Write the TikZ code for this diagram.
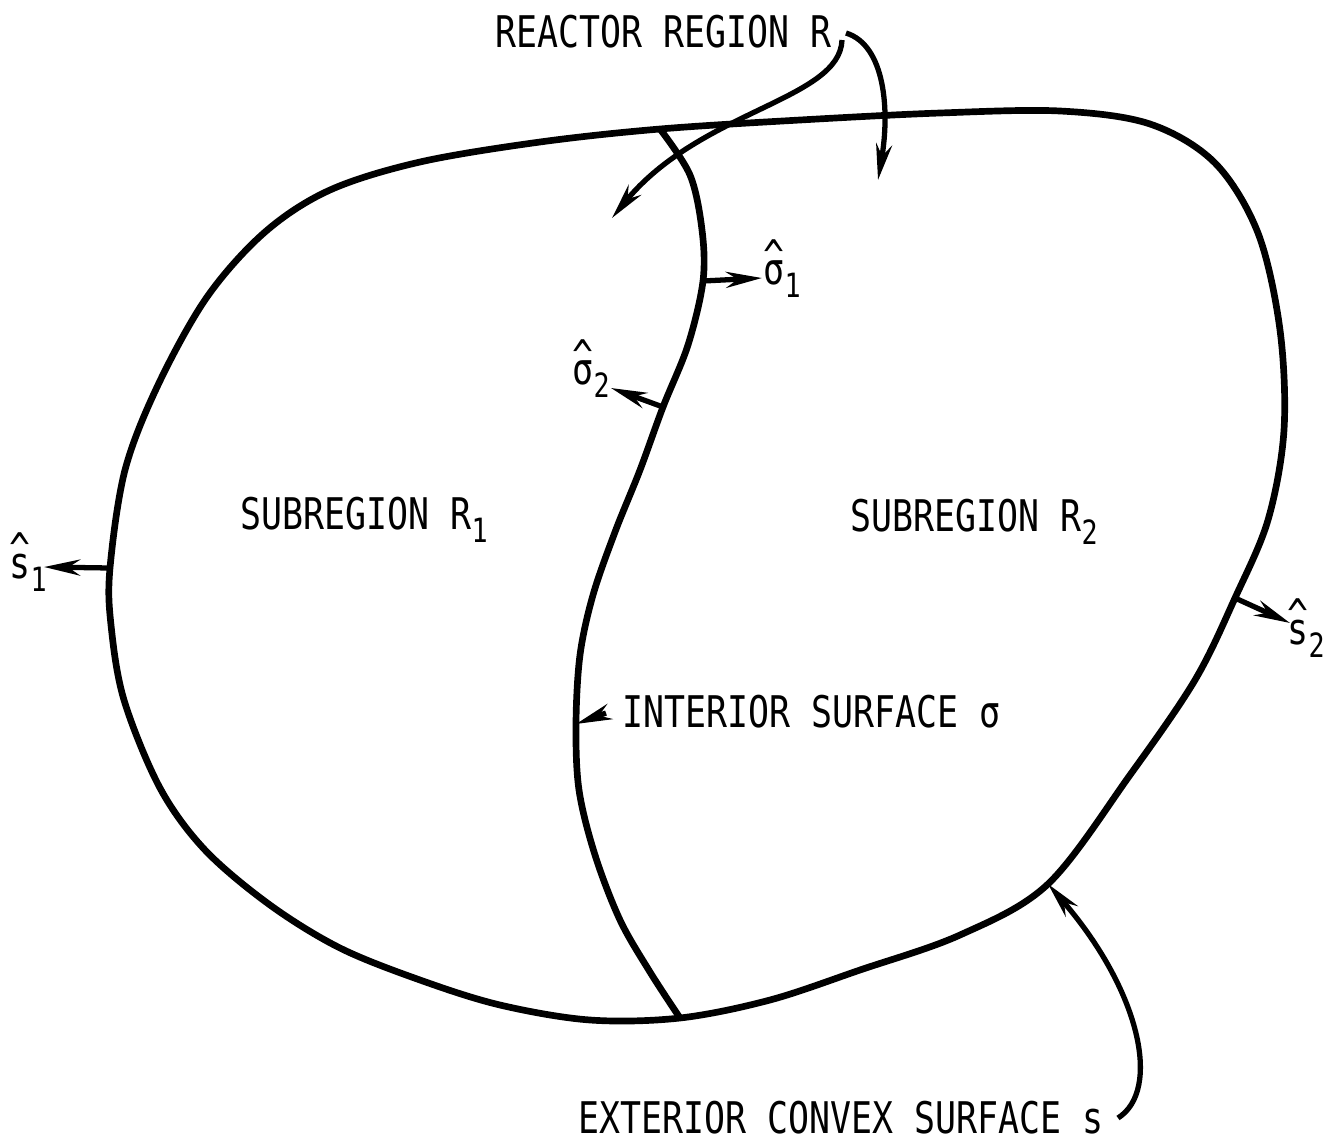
\documentclass[tikz,border=0pt]{standalone}
\usepackage{fontspec}
\setmainfont{DejaVu Sans Mono}[FakeStretch=0.8]
\usetikzlibrary{arrows.meta}
\newcommand\hatted[1]{\leavevmode\vbox{\offinterlineskip\halign{\hfil##\hfil\cr\textasciicircum\cr\noalign{\kern-0.26em}#1\cr}}}
\newcommand\lowsub[1]{\raisebox{-0.3em}{\fontsize{9.5}{10}\selectfont #1}}
\tikzset{
  outline/.style={line width=1.9pt, line join=round},
  pointer/.style={line width=1.5pt, -{Stealth[length=0.36cm,width=0.16cm]}},
  lbl/.style={font=\fontsize{12.4}{14}\selectfont, inner sep=0pt, anchor=base west},
}
\begin{document}
\begin{tikzpicture}[x=0.01cm,y=-0.01cm]
\useasboundingbox (0,0) rectangle (1336,1142);
% named points on the surfaces
\coordinate (top) at (660,129);
\coordinate (bot) at (680,1018);
\coordinate (s1b) at (110,568);
\coordinate (s2b) at (1235,598);
\coordinate (exth) at (1048,884);
\coordinate (sg1b) at (703,281);
\coordinate (sg2b) at (663,407);
\coordinate (intp) at (576,724);
% exterior convex surface
\draw[outline] plot[smooth cycle, tension=0.55] coordinates {
 (top) (800,120) (940,113) (1060,111) (1150,124) (1215,163) (1258,233)
 (1280,330) (1284,430) (1268,520) (s2b) (1195,680) (1130,775) (exth)
 (960,935) (860,970) (770,1000) (bot) (590,1020) (500,1005) (420,980)
 (340,948) (270,905) (205,850) (160,788) (124,700) (111,625) (s1b)
 (125,470) (158,385) (207,297) (265,232) (330,190) (420,162) (540,142)};
% interior surface
\draw[outline] plot[smooth, tension=0.55] coordinates {
 (top) (690,175) (702,230) (sg1b) (688,345) (sg2b) (640,470) (615,532)
 (593,595) (580,655) (intp) (579,790) (595,855) (620,920) (650,972) (bot)};
% labels
\node[lbl] (reactor) at (495,47) {REACTOR REGION R};
\node[lbl] (sub1) at (240,529) {SUBREGION R\lowsub{1}};
\node[lbl] (sub2) at (850,531) {SUBREGION R\lowsub{2}};
\node[lbl] (inter) at (622,727) {INTERIOR SURFACE σ};
\node[lbl] (exter) at (578,1133) {EXTERIOR CONVEX SURFACE s};
\node[lbl] (lsg1) at (763,284) {\hatted{σ}\lowsub{1}};
\node[lbl] (lsg2) at (572,384) {\hatted{σ}\lowsub{2}};
\node[lbl] (ls1) at (9,578) {\hatted{s}\lowsub{1}};
\node[lbl] (ls2) at (1287,644) {\hatted{s}\lowsub{2}};
% free ends of the pointers
\coordinate (rA) at (846,33);
\coordinate (rB) at (842,40);
\coordinate (sg1t) at (762,278);
\coordinate (sg2t) at (611,388);
\coordinate (s1t) at (44,567);
\coordinate (s2t) at (1290,623);
\coordinate (intt) at (606,713);
\coordinate (extt) at (1118,1118);
% pointers
\draw[pointer] (rA) .. controls (885,45) and (890,110) .. (878,180);
\draw[pointer] (rB) .. controls (840,100) and (700,110) .. (612,218);
\draw[pointer] (sg1b) -- (sg1t);
\draw[pointer] (sg2b) -- (sg2t);
\draw[pointer] (s1b) -- (s1t);
\draw[pointer] (s2b) -- (s2t);
\draw[pointer] (intt) -- (intp);
\draw[pointer] (extt) .. controls (1162,1090) and (1140,990) .. (exth);
\end{tikzpicture}
\end{document}
